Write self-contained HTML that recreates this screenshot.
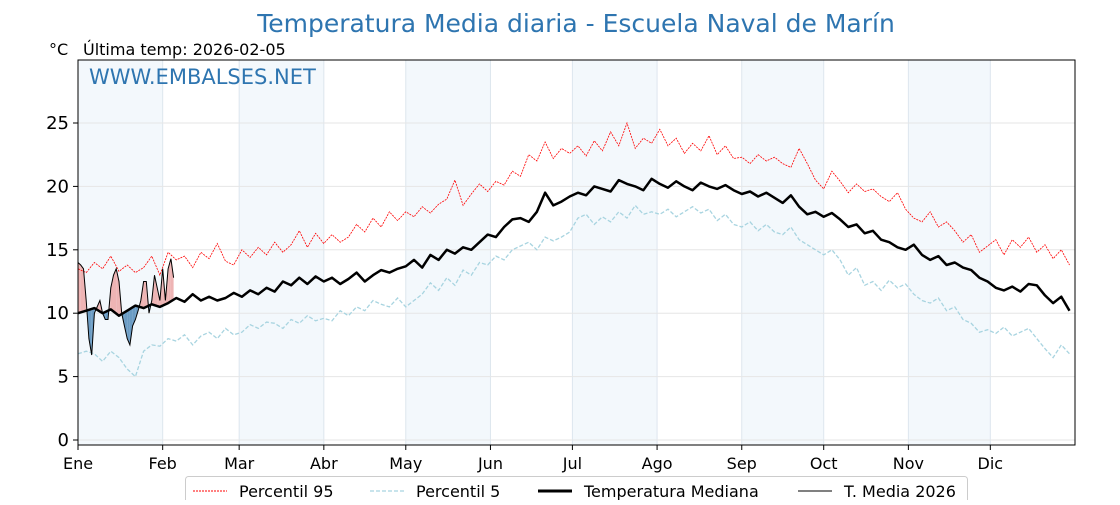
<!DOCTYPE html>
<html><head><meta charset="utf-8"><style>
body{margin:0;background:#fff;width:1120px;height:500px;overflow:hidden;font-family:"Liberation Sans","DejaVu Sans",sans-serif}
</style></head><body>
<svg id="c" width="1120" height="500" style="font-family:'DejaVu Sans','Liberation Sans',sans-serif">
<text x="576" y="32" text-anchor="middle" font-size="25" fill="#2e75b0">Temperatura Media diaria - Escuela Naval de Marín</text>
<text x="49" y="55" font-size="16" fill="#000">°C</text>
<text x="83" y="55" font-size="16" fill="#000">Última temp: 2026-02-05</text>
<g id="bands"></g><g id="grid"></g><g id="fills"></g><g id="lines"></g>
<rect x="78" y="60" width="997" height="385" fill="none" stroke="#000" stroke-width="1"/>
<text x="89" y="84" font-size="21" fill="#2e75b0">WWW.EMBALSES.NET</text>
<g id="axes"></g>
<g>
<rect x="185.5" y="476.5" width="782" height="30" rx="3" fill="#fff" stroke="#ccc"/>
<line x1="193" y1="491" x2="227" y2="491" stroke="red" stroke-width="1" stroke-dasharray="2,1"/>
<text x="239" y="497" font-size="16">Percentil 95</text>
<line x1="370" y1="491" x2="404" y2="491" stroke="#a8d4e0" stroke-width="1.3" stroke-dasharray="4,2"/>
<text x="416" y="497" font-size="16">Percentil 5</text>
<line x1="538" y1="491" x2="572" y2="491" stroke="#000" stroke-width="3"/>
<text x="584" y="497" font-size="16">Temperatura Mediana</text>
<line x1="798" y1="491" x2="832" y2="491" stroke="#000" stroke-width="1"/>
<text x="844" y="497" font-size="16">T. Media 2026</text>
</g>
</svg>
<script>
const months=["Ene","Feb","Mar","Abr","May","Jun","Jul","Ago","Sep","Oct","Nov","Dic"];
const monthStart=[0,31,59,90,120,151,181,212,243,273,304,334];
const yTicks=[0,5,10,15,20,25];
const step=3;
const median=[10,10.2,10.4,10,10.3,9.8,10.2,10.6,10.4,10.7,10.5,
10.8,11.2,10.9,11.5,11,11.3,11,11.2,11.6,
11.3,11.8,11.5,12,11.7,12.5,12.2,12.8,12.3,12.9,
12.5,12.8,12.3,12.7,13.2,12.5,13,13.4,13.2,13.5,
13.7,14.2,13.6,14.6,14.2,15,14.7,15.2,15,15.6,16.2,
16,16.8,17.4,17.5,17.2,18,19.5,18.5,18.8,19.2,
19.5,19.3,20,19.8,19.6,20.5,20.2,20,19.7,20.6,
20.2,19.9,20.4,20,19.7,20.3,20,19.8,20.1,19.7,
19.4,19.6,19.2,19.5,19.1,18.7,19.3,18.4,17.8,18,
17.6,17.9,17.4,16.8,17,16.3,16.5,15.8,15.6,15.2,
15,15.4,14.6,14.2,14.5,13.8,14,13.6,13.4,12.8,
12.5,12,11.8,12.1,11.7,12.3,12.2,11.4,10.8,11.3,10.2];
const p95=[13.5,13.2,14,13.5,14.5,13.3,13.8,13.2,13.6,14.5,13,
14.8,14.2,14.5,13.6,14.8,14.3,15.5,14.1,13.8,
15,14.4,15.2,14.6,15.6,14.8,15.4,16.5,15.2,16.3,
15.5,16.2,15.6,16,17,16.4,17.5,16.8,18,17.3,
18,17.6,18.4,17.9,18.6,19,20.5,18.5,19.4,20.2,19.6,
20.4,20.1,21.2,20.8,22.5,22,23.5,22.2,23,22.6,
23.2,22.4,23.6,22.8,24.3,23.2,25,23,23.8,23.4,
24.5,23.2,23.8,22.6,23.4,22.8,24,22.5,23.2,22.2,
22.3,21.8,22.5,22,22.3,21.8,21.5,23,21.8,20.5,
19.8,21.2,20.4,19.5,20.2,19.6,19.8,19.2,18.8,19.5,
18.2,17.5,17.2,18,16.8,17.2,16.5,15.6,16.2,14.8,
15.3,15.8,14.6,15.8,15.2,16,14.8,15.4,14.3,15,13.8];
const p5=[6.8,7,6.8,6.2,7,6.5,5.6,5,7,7.5,7.4,
8,7.8,8.3,7.5,8.2,8.5,8,8.8,8.3,
8.5,9.1,8.8,9.3,9.2,8.8,9.5,9.2,9.8,9.4,
9.6,9.4,10.2,9.8,10.5,10.2,11,10.7,10.5,11.2,
10.5,11,11.5,12.4,11.8,12.8,12.2,13.4,13,14,13.8,
14.5,14.2,15,15.3,15.6,15,16,15.7,16,16.4,
17.5,17.8,17,17.6,17.2,18,17.5,18.5,17.8,18,
17.8,18.2,17.6,18,18.4,17.9,18.2,17.3,17.8,17,
16.8,17.2,16.5,17,16.4,16.2,16.8,15.8,15.4,15,
14.6,15,14.2,13,13.6,12.2,12.5,11.8,12.6,12,
12.3,11.5,11,10.8,11.2,10.2,10.5,9.5,9.2,8.5,
8.7,8.4,8.9,8.2,8.5,8.8,8,7.2,6.5,7.5,6.8];
const t2026=[14,13.8,13.5,11,8,6.7,10,10.5,11,10,9.5,9.5,12,13,13.5,12.5,10,9,8,7.5,9,9.5,10.2,11,12.5,12.5,10,11,13,12,11,13.5,11,13.5,14.3,12.8];

const X0=78,X1=1075;
const xS=d=>X0+d*(X1-X0)/365;
const yS=v=>440-v*12.68;
const NS="http://www.w3.org/2000/svg";
function mk(tag,attrs,parent){const e=document.createElementNS(NS,tag);for(const k in attrs)e.setAttribute(k,attrs[k]);document.getElementById(parent).appendChild(e);return e;}

for(let i=0;i<12;i++){
  const a=xS(monthStart[i]),b=xS(i<11?monthStart[i+1]:365);
  if(i%2===0){const r=mk('rect',{x:a,y:60,width:b-a,height:385,fill:'#f3f8fc'},'bands');
  
  }
  const g=mk('line',{x1:a,y1:60,x2:a,y2:445,stroke:'#dde6ee','stroke-width':1},'grid');
  
  
  const tk=mk('line',{x1:a,y1:445,x2:a,y2:450,stroke:'#000'},'axes');
  
  
  const t=mk('text',{x:a,y:469,'font-size':16,'text-anchor':'middle'},'axes');
  t.textContent=months[i];
  
  
}
yTicks.forEach(v=>{
  const y=yS(v);
  const g=mk('line',{x1:X0,y1:y,x2:X1,y2:y,stroke:'#e6e6e6'},'grid');
  
  
  const tk=mk('line',{x1:73,y1:y,x2:78,y2:y,stroke:'#000'},'axes');
  
  
  const t=mk('text',{x:69,y:y+6,'font-size':18,'text-anchor':'end'},'axes');
  t.textContent=v;
  
  
});
function pts(arr,st){return arr.map((v,i)=>xS(i*st).toFixed(1)+','+yS(v).toFixed(1)).join(' ');}
function medAt(d){const f=d/step,i=Math.floor(f),r=f-i;const a=median[Math.min(i,median.length-1)],b=median[Math.min(i+1,median.length-1)];return a+(b-a)*r;}
for(let d=0;d<t2026.length-1;d++){
  const t0=t2026[d],t1=t2026[d+1],m0=medAt(d),m1=medAt(d+1);
  const d0=t0-m0,d1=t1-m1;
  const segs=[];
  if(d0*d1<0){const f=d0/(d0-d1);const dc=d+f,vc=m0+(m1-m0)*f;
    segs.push([d,t0,m0,dc,vc,vc,d0]);segs.push([dc,vc,vc,d+1,t1,m1,d1]);}
  else segs.push([d,t0,m0,d+1,t1,m1,d0+d1]);
  segs.forEach(s=>{
    const p=mk('polygon',{points:`${xS(s[0])},${yS(s[1])} ${xS(s[3])},${yS(s[4])} ${xS(s[3])},${yS(s[5])} ${xS(s[0])},${yS(s[2])}`,fill:s[6]>=0?'#eeb4b4':'#6b9cc4'},'fills');
    
    
  });
}
const l1=mk('polyline',{points:pts(p95,step),fill:'none',stroke:'red','stroke-width':0.8,'stroke-dasharray':'2,1'},'lines');


const l2=mk('polyline',{points:pts(p5,step),fill:'none',stroke:'#a8d4e0','stroke-width':1.3,'stroke-dasharray':'4,2'},'lines');


const l3=mk('polyline',{points:pts(median,step),fill:'none',stroke:'#000','stroke-width':2.5,'stroke-linejoin':'round'},'lines');


const l4=mk('polyline',{points:pts(t2026,1),fill:'none',stroke:'#000','stroke-width':1},'lines');


</script>
</body></html>
